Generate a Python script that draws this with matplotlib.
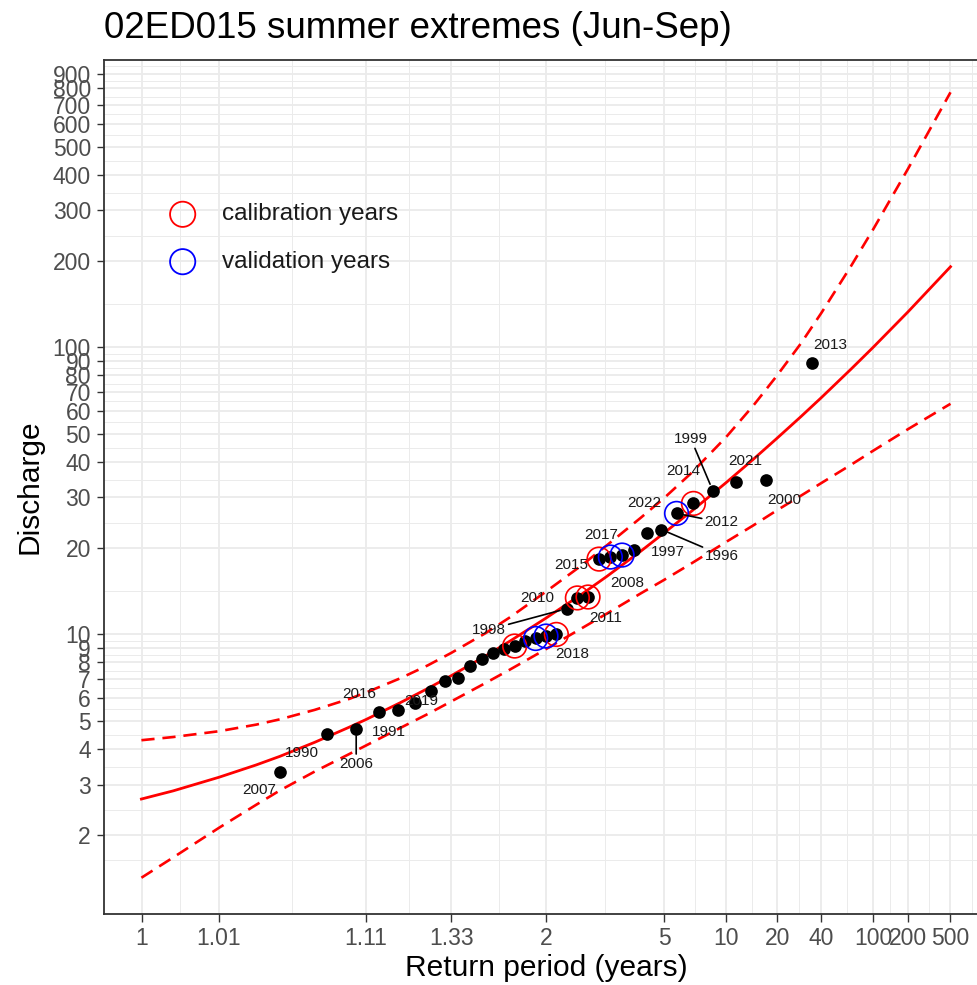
"""
Return-period plot of summer extremes for station 02ED015, normal probability x scale.
"""

import math
import numpy as np
import matplotlib
matplotlib.use("Agg")
import matplotlib.pyplot as plt
from matplotlib.ticker import FixedLocator, FixedFormatter, NullFormatter

plt.rcParams['font.family'] = ['Liberation Sans', 'DejaVu Sans']

# ---- data ----
years = [2007, 1990, 2006, 2016, 1991, 1992, 2019, 1993, 1994, 1995, 2001,
         2002, 2003, 2020, 2004, 2009, 2005, 2018, 1998, 2010, 2011, 2015,
         2017, 2008, 1997, 2022, 1996, 2012, 2014, 1999, 2021, 2000, 2013]
return_period = [1.030, 1.063, 1.097, 1.133, 1.172, 1.214, 1.259, 1.308, 1.360,
                 1.417, 1.478, 1.545, 1.619, 1.700, 1.789, 1.889, 2.000, 2.125,
                 2.267, 2.429, 2.615, 2.833, 3.091, 3.400, 3.778, 4.250, 4.857,
                 5.667, 6.800, 8.500, 11.33, 17.00, 34.00]
discharge = [3.31, 4.49, 4.69, 5.38, 5.45, 5.75, 6.35, 6.90, 7.07, 7.76, 8.18,
             8.59, 8.87, 9.11, 9.48, 9.68, 9.87, 10.0, 12.3, 13.4, 13.5, 18.3,
             18.6, 18.9, 19.7, 22.6, 23.2, 26.4, 28.6, 31.7, 33.9, 34.5, 88.0]
calibration_years = [2020, 2018, 2010, 2011, 2015, 2014]
validation_years = [2009, 2005, 2017, 2008, 2012]

# fitted curve and confidence band
curve_T = [1.002, 1.004, 1.0101, 1.02, 1.03, 1.0526, 1.087, 1.1111, 1.176,
           1.25, 1.3333, 1.5, 1.667, 2, 2.5, 3, 4, 5, 6.67, 10, 14.3, 20,
           28.6, 40, 66.7, 100, 200, 500]
fit_q = [2.67, 2.85, 3.18, 3.51, 3.76, 4.21, 4.74, 5.05, 5.78, 6.48, 7.18,
         8.41, 9.50, 11.4, 13.8, 15.9, 19.5, 22.6, 26.9, 33.8, 40.8, 48.3,
         57.3, 66.9, 84.0, 99.9, 133, 191]
upper_q = [4.28, 4.39, 4.60, 4.85, 5.06, 5.46, 5.95, 6.27, 7.03, 7.80, 8.62,
           10.1, 11.5, 14.1, 17.4, 20.4, 25.5, 29.9, 36.6, 48.7, 62.8, 79.9,
           103, 132, 192, 257, 419, 774]
lower_q = [1.42, 1.67, 2.12, 2.55, 2.86, 3.33, 3.82, 4.10, 4.72, 5.28, 5.84,
           6.77, 7.56, 8.89, 10.5, 11.8, 13.9, 15.5, 17.7, 21.0, 24.0, 27.1,
           30.4, 33.7, 39.0, 43.6, 51.9, 63.6]

x_breaks = [1.002004, 1.010101, 1.111111, 1.333333, 2, 5, 10, 20, 40, 100, 200, 500]
x_labels = ['1', '1.01', '1.11', '1.33', '2', '5', '10', '20', '40', '100', '200', '500']
y_breaks = [2, 3, 4, 5, 6, 7, 8, 9, 10, 20, 30, 40, 50, 60, 70, 80, 90,
            100, 200, 300, 400, 500, 600, 700, 800, 900]

# label placement: offset of text from its point in pixels (right, down)
label_offset = {
    2007: (-21, 18), 1990: (-25, 19), 2006: (0, 35), 2016: (-20, -18),
    1991: (-9, 22), 2019: (-9, 10), 2018: (16, 20), 1998: (-78, 21),
    2010: (-40, 0), 2011: (18, 21), 2015: (-28, 6), 2017: (-9, -22),
    2008: (5, 28), 1997: (33, 2), 2022: (-3, -30), 1996: (61, 26),
    2012: (45, 9), 2014: (-10, -32), 1999: (-22, -52), 2021: (9, -21),
    2000: (18, 20), 2013: (19, -18),
}
with_segment = [2006, 1998, 1996, 2012, 1999]


# ---- normal probability scale for return period ----
_a = [-3.969683028665376e+01, 2.209460984245205e+02, -2.759285104469687e+02,
      1.383577518672690e+02, -3.066479806614716e+01, 2.506628277459239e+00]
_b = [-5.447609879822406e+01, 1.615858368580409e+02, -1.556989798598866e+02,
      6.680131188771972e+01, -1.328068155288572e+01]
_c = [-7.784894002430293e-03, -3.223964580411365e-01, -2.400758276181240e+00,
      -2.549732539343734e+00, 4.374664141464968e+00, 2.938163982698783e+00]
_d = [7.784695709041462e-03, 3.224671290700398e-01, 2.445134137142996e+00,
      3.754408661907416e+00]


def norm_ppf(p):
    p = np.asarray(p, dtype=float)
    shape = p.shape
    p = np.clip(np.atleast_1d(p).ravel(), 1e-12, 1 - 1e-12)
    out = np.empty_like(p)
    lo = p < 0.02425
    hi = p > 1 - 0.02425
    mid = ~(lo | hi)

    def tail(q):
        num = ((((_c[0] * q + _c[1]) * q + _c[2]) * q + _c[3]) * q + _c[4]) * q + _c[5]
        den = (((_d[0] * q + _d[1]) * q + _d[2]) * q + _d[3]) * q + 1
        return num / den

    out[lo] = tail(np.sqrt(-2 * np.log(p[lo])))
    out[hi] = -tail(np.sqrt(-2 * np.log(1 - p[hi])))
    q = p[mid] - 0.5
    r = q * q
    num = (((((_a[0] * r + _a[1]) * r + _a[2]) * r + _a[3]) * r + _a[4]) * r + _a[5]) * q
    den = ((((_b[0] * r + _b[1]) * r + _b[2]) * r + _b[3]) * r + _b[4]) * r + 1
    out[mid] = num / den
    return out.reshape(shape)


_erf = np.vectorize(math.erf, otypes=[float])


def t_to_z(t):
    t = np.asarray(t, dtype=float)
    with np.errstate(divide='ignore', invalid='ignore'):
        p = 1 - 1 / t
    return norm_ppf(np.nan_to_num(p, nan=1e-12))


def z_to_t(z):
    z = np.asarray(z, dtype=float)
    exceed = 1 - 0.5 * (1 + _erf(z / math.sqrt(2)))
    return 1 / np.clip(exceed, 1e-15, None)


# ---- figure ----
W, H = 977, 985
fig = plt.figure(figsize=(W / 100, H / 100), dpi=100)
px_l, px_r, px_t, px_b = 104, 988, 60, 914.3
ax = fig.add_axes([px_l / W, (H - px_b) / H, (px_r - px_l) / W, (px_b - px_t) / H])

ax.set_xscale('function', functions=(t_to_z, z_to_t))
ax.set_yscale('log')
ax.set_xlim(float(z_to_t(-3.145)), float(z_to_t(3.145)))
ax.set_ylim(1.059, 1003)

# ticks
ax.xaxis.set_major_locator(FixedLocator(x_breaks))
ax.xaxis.set_major_formatter(FixedFormatter(x_labels))
ax.yaxis.set_major_locator(FixedLocator(y_breaks))
ax.yaxis.set_major_formatter(FixedFormatter([str(v) for v in y_breaks]))

# minor grid midway between breaks (in transformed space)
zb = t_to_z(x_breaks)
zb = np.concatenate([[zb[0] - (zb[1] - zb[0])], zb, [zb[-1] + (zb[-1] - zb[-2])]])
ax.xaxis.set_minor_locator(FixedLocator(z_to_t((zb[:-1] + zb[1:]) / 2)))
lb = np.log10(y_breaks)
lb = np.concatenate([[lb[0] - (lb[1] - lb[0])], lb, [lb[-1] + (lb[-1] - lb[-2])]])
ax.yaxis.set_minor_locator(FixedLocator(10 ** ((lb[:-1] + lb[1:]) / 2)))
ax.xaxis.set_minor_formatter(NullFormatter())
ax.yaxis.set_minor_formatter(NullFormatter())

ax.tick_params(which='major', length=5.4, width=1.0, color='#333333',
               labelsize=16.5, labelcolor='#4D4D4D', pad=4)
ax.tick_params(which='minor', length=0)
ax.grid(which='major', color='#EBEBEB', lw=1.3)
ax.grid(which='minor', color='#EBEBEB', lw=0.7)
ax.set_axisbelow(True)
for sp in ax.spines.values():
    sp.set_color('#333333')
    sp.set_linewidth(1.3)

# fitted curve and band
ax.plot(curve_T, fit_q, color='red', lw=2.0, zorder=3)
ax.plot(curve_T, upper_q, color='red', lw=1.9, dashes=(5, 3), zorder=3)
ax.plot(curve_T, lower_q, color='red', lw=1.9, dashes=(5, 3), zorder=3)

# observations
ax.scatter(return_period, discharge, s=83, c='black', linewidths=0, zorder=4)

cal_T = [t for t, y in zip(return_period, years) if y in calibration_years]
cal_Q = [q for q, y in zip(discharge, years) if y in calibration_years]
val_T = [t for t, y in zip(return_period, years) if y in validation_years]
val_Q = [q for q, y in zip(discharge, years) if y in validation_years]
ax.scatter(cal_T, cal_Q, s=290, facecolors='none', edgecolors='red', linewidths=1.2, zorder=5)
ax.scatter(val_T, val_Q, s=290, facecolors='none', edgecolors='blue', linewidths=1.2, zorder=5)

# year labels
for t, q, yr in zip(return_period, discharge, years):
    if yr not in label_offset:
        continue
    dx, dy = label_offset[yr]
    arrow = None
    if yr in with_segment:
        arrow = dict(arrowstyle='-', color='black', lw=1.2, shrinkA=0, shrinkB=5)
    ax.annotate(str(yr), xy=(t, q), xytext=(dx, -dy), textcoords='offset pixels',
                ha='center', va='center', fontsize=11, color='#1A1A1A',
                arrowprops=arrow, zorder=6)

# legend drawn as annotation
ax.scatter([0.089], [0.8194], s=330, facecolors='none', edgecolors='red',
           linewidths=1.3, transform=ax.transAxes, zorder=5, clip_on=False)
ax.scatter([0.089], [0.7639], s=330, facecolors='none', edgecolors='blue',
           linewidths=1.3, transform=ax.transAxes, zorder=5, clip_on=False)
ax.text(0.1335, 0.8194, 'calibration years', transform=ax.transAxes,
        fontsize=17.5, va='center', ha='left', color='#1A1A1A')
ax.text(0.1335, 0.7639, 'validation years', transform=ax.transAxes,
        fontsize=17.5, va='center', ha='left', color='#1A1A1A')

# titles
fig.text(104 / W, 1 - 28 / H, '02ED015 summer extremes (Jun-Sep)', fontsize=26.5,
         ha='left', va='center')
fig.text(30 / W, 1 - 487 / H, 'Discharge', fontsize=21.5, rotation=90,
         ha='center', va='center')
fig.text(546 / W, 1 - 968 / H, 'Return period (years)', fontsize=21.5,
         ha='center', va='center')

fig.savefig('out.png', dpi=100, facecolor='white')
